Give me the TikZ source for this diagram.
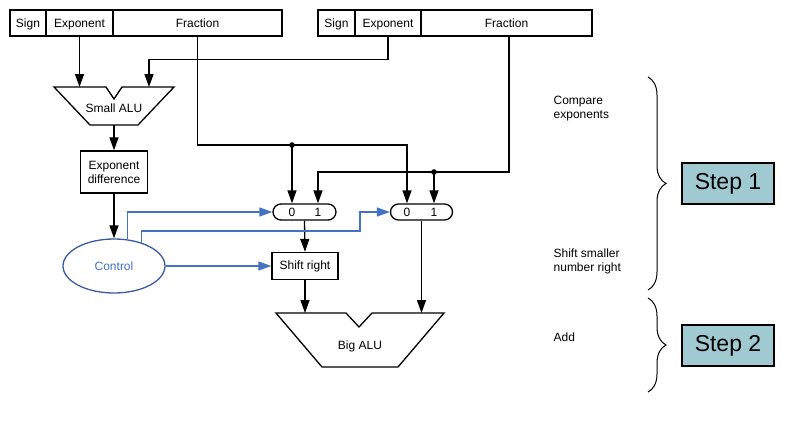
\documentclass[tikz,border=0pt]{standalone}
\usepackage{fontspec}
\setmainfont{Liberation Sans}
\usetikzlibrary{arrows.meta,decorations.pathreplacing,shapes.geometric,calc}
\definecolor{ctlblue}{RGB}{68,114,196}
\definecolor{ctledge}{RGB}{60,90,160}
\definecolor{stepfill}{RGB}{160,202,210}
\begin{document}
\begin{tikzpicture}[x=1pt,y=-1pt,line width=1.3pt,
  txt/.style={font=\fontsize{12}{14}\selectfont,inner sep=0pt},
  field/.style={draw,rectangle,minimum height=26,inner sep=0pt,text height=10.5pt,text depth=1pt,font=\fontsize{12}{14}\selectfont},
  blk/.style={draw,rectangle,inner sep=0pt,align=center,font=\fontsize{12}{14}\selectfont},
  mux/.style={draw,rectangle,rounded corners=8,minimum width=63,minimum height=16,inner sep=0pt},
  arr/.style={-{Triangle[length=13pt,width=9pt]}},
  barr/.style={draw=ctlblue,-{Triangle[length=13pt,width=9pt]}},
  stepbox/.style={draw,fill=stepfill,minimum width=92,minimum height=41,inner sep=0pt,font=\fontsize{23}{26}\selectfont},
  bracestyle/.style={decorate,decoration={brace,amplitude=18pt},line width=1pt}]
\useasboundingbox (0,0) rectangle (787,423);

% registers
\node[field,minimum width=36] (ls) at (28,23) {Sign};
\node[field,minimum width=67] (le) at (79.5,23) {Exponent};
\node[field,minimum width=169] (lf) at (197.5,23) {Fraction};
\node[field,minimum width=37] (rs) at (336.5,23) {Sign};
\node[field,minimum width=66] (re) at (388,23) {Exponent};
\node[field,minimum width=171] (rf) at (506.5,23) {Fraction};

% small ALU
\draw (54,87) -- (106,87) -- (114,99) -- (122,87) -- (174,87) -- (138,125) -- (90,125) -- cycle;
\node[txt] (salu) at (114,108) {Small ALU};
\coordinate (saluA) at (79.5,87);
\coordinate (saluB) at (149,87);
\coordinate (saluO) at (114,125);

\node[blk,minimum width=67,minimum height=42] (ed) at (114,172) {Exponent\\difference};

\node[draw=ctledge,ellipse,minimum width=102,minimum height=54,inner sep=0pt,
      text=ctlblue,font=\fontsize{12}{14}\selectfont] (ctl) at (114,266) {Control};

% muxes
\node[mux] (m1) at (304.5,212) {};
\node[txt] (m1z) at (292,212) {0};
\node[txt] (m1o) at (318,212) {1};
\node[mux,minimum width=62] (m2) at (421.5,212) {};
\node[txt] (m2z) at (407,212) {0};
\node[txt] (m2o) at (434,212) {1};

\node[blk,minimum width=66,minimum height=27] (sr) at (305,266) {Shift right};

% big ALU
\draw (276,313) -- (346,313) -- (359,327) -- (372,313) -- (444,313) -- (398,367) -- (322,367) -- cycle;
\node[txt] (balu) at (360,346) {Big ALU};
\coordinate (baluA) at (305,313);
\coordinate (baluB) at (421.5,313);

% junctions
\coordinate (j1) at (292,145);
\coordinate (j2) at (434,172);
\coordinate (bend) at (360,231);

% black wires
\draw[arr] (le.south) -- (saluA);
\draw[arr] (re.south) -- ++(0,23) -| (saluB);
\draw[arr] (saluO) -- (ed.north);
\draw[arr] (ed.south) -- (ctl.north);
\draw[arr] (lf.south) |- (j1) -| (m2.north -| m2z);
\draw[arr] (j1) -- (m1.north -| m1z);
\draw[arr] ([xshift=2.5pt]rf.south) |- (j2) -| (m1.north -| m1o);
\draw[arr] (j2) -- (m2.north -| m2o);
\fill (j1) circle (2.8);
\fill (j2) circle (2.8);
\draw[arr] (m1.south) -- (sr.north);
\draw[arr] (sr.south) -- (baluA);
\draw[arr] (m2.south) -- (baluB);

% blue control wires
\draw[barr] (ctl.63) |- (m1.west);
\draw[barr] (ctl.40) |- (bend) |- (m2.west);
\draw[barr] (ctl.east) -- (sr.west);

% right side annotations
\node[txt,anchor=west,align=left] (t1) at (553,108.5) {Compare\\exponents};
\node[txt,anchor=west,align=left] (t2) at (553,261) {Shift smaller\\number right};
\node[txt,anchor=west] (t3) at (553,337) {Add};
\coordinate (b1a) at (648,77);
\coordinate (b1b) at (648,290);
\coordinate (b2a) at (648,298);
\coordinate (b2b) at (648,392);
\draw[bracestyle] (b1a) -- (b1b);
\draw[bracestyle] (b2a) -- (b2b);
\node[stepbox] (st1) at (728,183.5) {Step 1};
\node[stepbox] (st2) at (728,345.5) {Step 2};
\end{tikzpicture}
\end{document}
